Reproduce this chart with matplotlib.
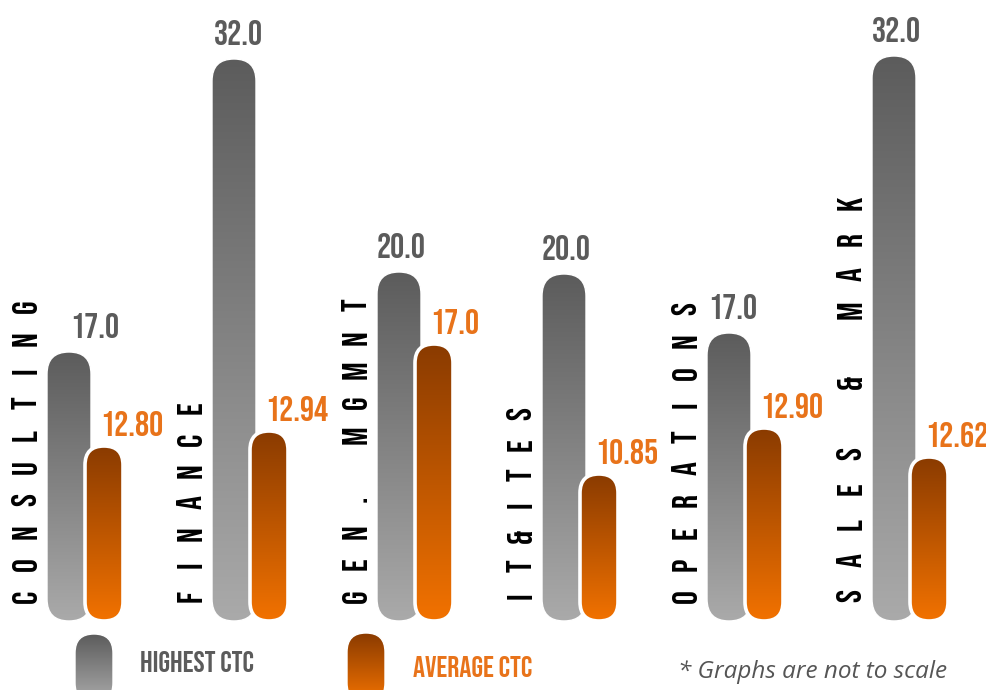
import numpy as np
import matplotlib.pyplot as plt
from matplotlib.patches import FancyBboxPatch
from matplotlib.colors import LinearSegmentedColormap

# data
categories = ['CONSULTING', 'FINANCE', 'GEN. MGMNT', 'IT&ITES', 'OPERATIONS', 'SALES & MARK']
highest_ctc = [17.0, 32.0, 20.0, 20.0, 17.0, 32.0]
average_ctc = [12.80, 12.94, 17.0, 10.85, 12.90, 12.62]
average_labels = ['12.80', '12.94', '17.0', '10.85', '12.90', '12.62']
# graphs are not to scale -> drawn lengths of the pills (px)
highest_len = [269, 562, 349, 347, 288, 565]
average_len = [175, 190, 277, 147, 193, 164]

# layout (pixel units, y up)
W, H = 987, 690
base = 69
x0, step = 69, 165
grey_w, orange_w = 44, 38
orange_dx = 35
grey_label_dx = [23, 2, 0, 0, 1, 0]
label_top = [384, 282, 385, 276, 381, 487]   # centre of last letter of the category

cond = ['Bebas Neue', 'DejaVu Sans']
grey_txt = '#5b5b5b'
orange_txt = '#e8731a'

grey_cmap = LinearSegmentedColormap.from_list('g', ['#aaaaaa', '#5c5c5c'])
orange_cmap = LinearSegmentedColormap.from_list('o', ['#f27200', '#8a3b00'])

fig = plt.figure(figsize=(W / 100, H / 100), dpi=100, facecolor='white')
ax = fig.add_axes([0, 0, 1, 1])


def pill(xc, y0, w, h, cmap, lw, z):
    patch = FancyBboxPatch((xc - w / 2, y0), w, h,
                           boxstyle="round,pad=0,rounding_size=%f" % (w / 2),
                           fc='none', ec='white', lw=lw, zorder=z + 1)
    ax.add_patch(patch)
    grad = np.linspace(0, 1, 256).reshape(-1, 1)
    im = ax.imshow(grad, cmap=cmap, origin='lower', aspect='auto',
                   extent=(xc - w / 2, xc + w / 2, y0, y0 + h), zorder=z)
    im.set_clip_path(patch)


for i, cat in enumerate(categories):
    xc = x0 + step * i
    xo = xc + orange_dx
    pill(xc, base, grey_w, highest_len[i], grey_cmap, 1.0, 2)
    pill(xo, base, orange_w, average_len[i], orange_cmap, 2.6, 4)

    # value labels
    ax.text(xc - grey_w / 2 + grey_label_dx[i], base + highest_len[i] + 14,
            '%.1f' % highest_ctc[i], ha='left', va='baseline',
            fontsize=25.5, color=grey_txt, family=cond)
    ax.text(xo - 4, base + average_len[i] + 10, average_labels[i],
            ha='left', va='baseline', fontsize=25.5, color=orange_txt, family=cond)

    # spaced vertical category label
    n = len(cat)
    ys = np.linspace(94, label_top[i], n)
    for ch, y in zip(cat, ys):
        if ch == ' ':
            continue
        ax.text(xc - 45, y, ch, rotation=90, ha='center', va='center',
                fontsize=25, color='black', family=cond)

# legend
pill(94, -12, 38, 68, grey_cmap, 1.0, 2)
pill(366, -12, 38, 69, orange_cmap, 1.0, 2)
ax.text(140, 18, 'HIGHEST CTC', ha='left', va='baseline', fontsize=21.5,
        color=grey_txt, family=cond)
ax.text(413, 13, 'AVERAGE CTC', ha='left', va='baseline', fontsize=21.5,
        color=orange_txt, family=cond)
ax.text(678, 12, '* Graphs are not to scale', ha='left', va='baseline',
        fontsize=17.5, style='italic', color='#555555', family=['Open Sans', 'DejaVu Sans'])

ax.set_xlim(0, W)
ax.set_ylim(0, H)
ax.axis('off')

plt.savefig('out.png', dpi=100, facecolor='white')
